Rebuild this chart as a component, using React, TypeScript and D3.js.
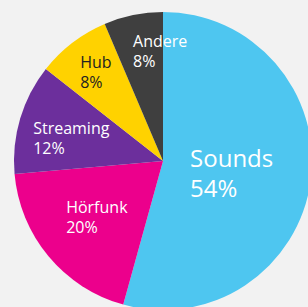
import React from "react";
import * as d3 from "d3";

const categories = ["Sounds", "Hörfunk", "Streaming", "Hub", "Andere"];
const values = [54.3, 19.3, 12, 8, 6.4];
const labels = ["54%", "20%", "12%", "8%", "8%"];
const colors = ["#4ec6f0", "#ec008c", "#6c2f9c", "#ffd200", "#3f3f3f"];
const textColors = ["#ffffff", "#ffffff", "#ffffff", "#222222", "#ffffff"];

const W = 308;
const H = 307;
const cx = 163;
const cy = 161;
const R = 149;
const labelR = 100;
// layout nudges for label anchors (left edge / first baseline relative to centroid)
const nudges: [number, number][] = [
  [-72, -7],
  [-20, -12],
  [-34, 1],
  [-22, -14],
  [-10, -16],
];

export default function App() {
  const data = categories.map((c, i) => ({ c, v: values[i], i }));
  const pie = d3
    .pie<{ c: string; v: number; i: number }>()
    .value((d) => d.v)
    .sort(null)
    .startAngle(0)
    .endAngle(2 * Math.PI);
  const arcs = pie(data);
  const arc = d3.arc<d3.PieArcDatum<any>>().innerRadius(0).outerRadius(R);
  const labelArc = d3
    .arc<d3.PieArcDatum<any>>()
    .innerRadius(labelR)
    .outerRadius(labelR);

  return (
    <div style={{ position: "absolute", left: 0, top: 0 }}>
      <svg width={W} height={H} style={{ display: "block", background: "#f2f2f2" }}>
        <g transform={`translate(${cx},${cy})`}>
          {arcs.map((a, i) => (
            <path key={i} d={arc(a) || ""} fill={colors[i]} />
          ))}
          {arcs.map((a, i) => {
            const [x, y] = labelArc.centroid(a);
            const big = i === 0;
            const fs = big ? 24 : 16;
            const lh = big ? 30 : 20;
            const lx = x + nudges[i][0];
            const ly = y + nudges[i][1];
            return (
              <text
                key={i}
                fill={textColors[i]}
                fontFamily="'Open Sans', sans-serif"
                fontSize={fs}
              >
                <tspan x={lx} y={ly}>
                  {categories[i]}
                </tspan>
                <tspan x={lx} y={ly + lh}>
                  {labels[i]}
                </tspan>
              </text>
            );
          })}
        </g>
      </svg>
    </div>
  );
}
